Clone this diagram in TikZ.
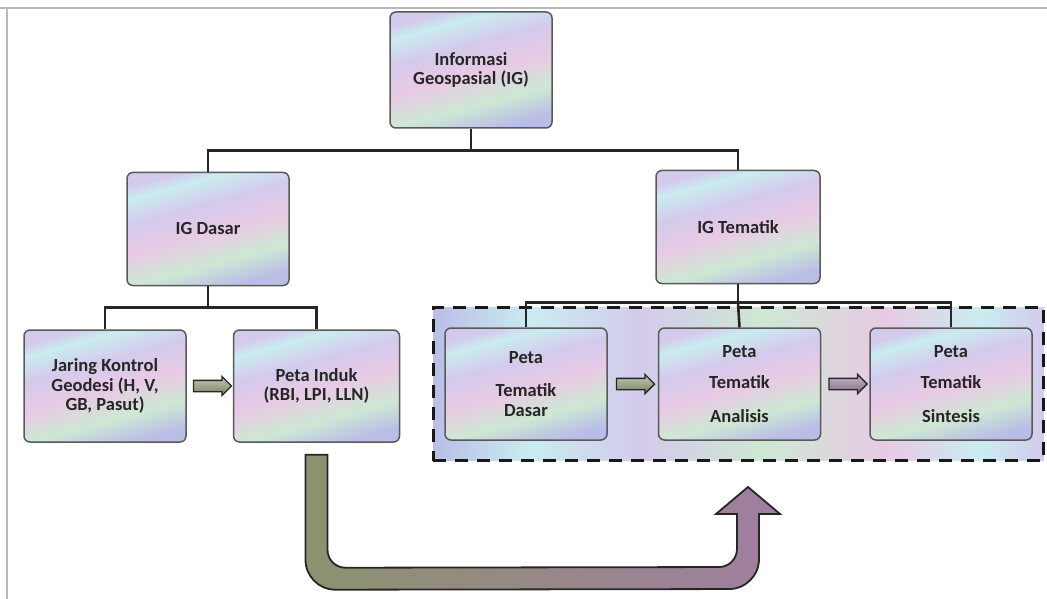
\documentclass[tikz,border=0pt]{standalone}
\usepackage{fontspec}
\setmainfont{Carlito}
\usetikzlibrary{positioning,shapes.arrows,fit,backgrounds,calc}

\definecolor{pla}{RGB}{186,190,230}
\definecolor{plb}{RGB}{206,232,212}
\definecolor{plc}{RGB}{232,202,228}
\definecolor{pld}{RGB}{212,202,236}
\definecolor{ple}{RGB}{202,236,240}
\definecolor{arrg}{RGB}{120,132,96}
\definecolor{arrp}{RGB}{132,104,134}
\definecolor{uol}{RGB}{140,146,110}
\definecolor{uteal}{RGB}{88,160,148}
\definecolor{umauve}{RGB}{160,126,160}

\pgfdeclareverticalshading{pastel}{100bp}{color(0bp)=(pla); color(25bp)=(pla);
  color(36bp)=(plb); color(48bp)=(plc); color(60bp)=(pld); color(70bp)=(ple);
  color(75bp)=(pld); color(100bp)=(pld)}
\pgfdeclarehorizontalshading{pastelwide}{100bp}{color(0bp)=(pla); color(25bp)=(pla);
  color(33bp)=(ple); color(42bp)=(pld); color(52bp)=(plb); color(62bp)=(plc);
  color(70bp)=(ple); color(75bp)=(pld); color(100bp)=(pld)}

\begin{document}
\begin{tikzpicture}[x=1pt,y=-1pt]
	\tikzset{
		box/.style = {draw=gray!70!black, line width=1.5pt, rounded corners=6pt,
			shade, shading=pastel, shading angle=15, minimum width=162pt, minimum height=112pt,
			align=center, text=black!85, font=\fontsize{18.5}{19.5}\selectfont\bfseries},
		link/.style = {draw=black!85, line width=2.6pt},
		grpbox/.style = {draw=black!90, line width=3pt, dash pattern=on 13pt off 9pt,
			shade, shading=pastelwide},
		flowarrow/.style = {single arrow, draw=black!85, line width=1.3pt, inner sep=5pt,
			single arrow head extend=4pt, minimum height=38pt,
			top color=#1!45!white, bottom color=#1},
		bigarrow/.style = {draw=black!85, line width=1.8pt,
			left color=uol, middle color=uteal, right color=umauve}
	}
	\useasboundingbox (0,0) rectangle (1047,599);
	\draw[gray!55, line width=1.5pt] (0,8) -- (1047,8);
	\draw[gray!55, line width=1.2pt] (7,8) -- (7,599);

	\node[box, minimum height=116pt] (ig) at (471,70) {Informasi\\Geospasial (IG)};
	\node[box, minimum height=113pt] (igd) at (208,229) {IG Dasar};
	\node[box, minimum height=113pt, minimum width=164pt] (igt) at (738,227) {IG Tematik};
	\node[box] (jkg) at (105,386) {Jaring Kontrol\\Geodesi (H, V,\\GB, Pasut)};
	\node[box, minimum width=166pt, right=46pt of jkg] (pti) {Peta Induk\\(RBI, LPI, LLN)};
	\node[box] (ptd) at (526,384) {Peta\\[14pt]Tematik\\Dasar};
	\node[box, right=50pt of ptd] (pta) {Peta\\[12pt]Tematik\\[14pt]Analisis};
	\node[box, right=48pt of pta] (pts) {Peta\\[12pt]Tematik\\[14pt]Sintesis};

	\begin{scope}[on background layer]
		\node[grpbox, fit=(ptd)(pts), inner xsep=11pt, inner ysep=20pt] (grp) {};
	\end{scope}

	% tree
	\draw[link] (ig.south) -- ++(0,22) coordinate (j0) -| (igd.north);
	\draw[link] (j0) -| (igt.north);
	\draw[link] (igd.south) -- ++(0,21.5) coordinate (j1) -| (jkg.north);
	\draw[link] (j1) -| (pti.north);
	\draw[link] (igt.south) -- ++(0,18.5) coordinate (j2) -| (ptd.north);
	\draw[link] (j2) -| (pts.north);
	\draw[link] (j2) -- (pta.north);

	% flow
	\node[flowarrow=arrg] (a1) at ($(jkg.east)!0.5!(pti.west)$) {};
	\node[flowarrow=arrg] (a2) at ($(ptd.east)!0.5!(pta.west)$) {};
	\node[flowarrow=arrp] (a3) at ($(pta.east)!0.5!(pts.west)$) {};

	\coordinate (u0) at ([yshift=-12pt]pti.south);
	\coordinate (u1) at (748,487);
	\draw[bigarrow] ($(u0)+(-11,0)$) [rounded corners=30pt] -- ($(u0)+(-11,135)$)
		-- ($(u1)+(11,102)$) [sharp corners] -- ($(u1)+(11,27)$) -- ($(u1)+(32,27)$)
		-- (u1) -- ($(u1)+(-32,27)$) -- ($(u1)+(-11,27)$) [rounded corners=18pt]
		-- ($(u1)+(-11,80)$) -- ($(u0)+(11,113)$) [sharp corners] -- ($(u0)+(11,0)$) -- cycle;
\end{tikzpicture}
\end{document}
